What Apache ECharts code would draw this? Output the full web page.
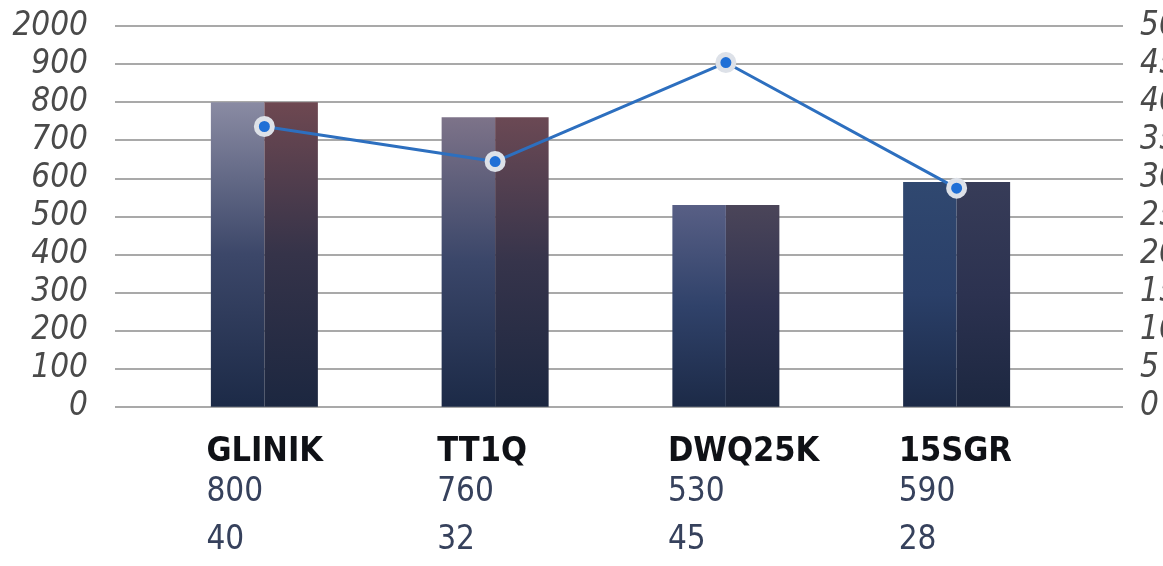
<!DOCTYPE html>
<html>
<head>
<meta charset="utf-8">
<script src="https://cdn.jsdelivr.net/npm/echarts@6/dist/echarts.min.js"></script>
<style>
html,body{margin:0;padding:0;background:#fff;}
#chart{width:1163px;height:566px;}
</style>
</head>
<body>
<div id="chart"></div>
<script>
// ---- data ----
const categories = ['GLINIK', 'TT1Q', 'DWQ25K', '15SGR'];
const barValues = [800, 760, 530, 590];
const lineValues = [36.8, 32.2, 45.2, 28.7];
const barValueLabels = ['800', '760', '530', '590'];
const lineValueLabels = ['40', '32', '45', '28'];
const leftTickLabels = ['0', '100', '200', '300', '400', '500', '600', '700', '800', '900', '2000'];
const rightTickLabels = ['0', '5', '10', '15', '20', '25', '30', '35', '40', '45', '50'];

// ---- styles ----
const leftTopColors = ['#8a8ba3', '#7d7389', '#585f85', '#304870'];
const leftMidColors = ['#3c4769', '#3a4669', '#30426a', '#2a3f68'];
const rightTopColors = ['#6e4851', '#6b4954', '#4b4559', '#373c58'];
const rightMidColors = ['#353349', '#36344b', '#2f3250', '#2c3250'];

function hasFont(name) {
  const c = document.createElement('canvas').getContext('2d');
  const t = '2000GLINIK0123456789';
  c.font = '40px monospace';
  const a = c.measureText(t).width;
  c.font = '40px "' + name + '", monospace';
  const b = c.measureText(t).width;
  return Math.abs(a - b) > 0.5;
}
const hasCond = hasFont('DejaVu Sans Condensed');
const condFont = hasCond ? '"DejaVu Sans Condensed", "Liberation Sans", sans-serif' : '"Liberation Sans", sans-serif';
const axisSize = hasCond ? 33 : 29;

function grad(top, mid, bottom) {
  return new echarts.graphic.LinearGradient(0, 0, 0, 1, [
    { offset: 0, color: top },
    { offset: 0.5, color: mid },
    { offset: 1, color: bottom }
  ]);
}

const chart = echarts.init(document.getElementById('chart'), null, { renderer: 'canvas' });

const gridTop = 26;
const gridBottom = 566 - 406.7;

const option = {
  animation: false,
  backgroundColor: '#ffffff',
  grid: [
    { left: 115, right: 40, top: gridTop, bottom: gridBottom, containLabel: false, outerBoundsMode: 'none' },
    { left: 149, right: 91, top: gridTop, bottom: gridBottom, containLabel: false, outerBoundsMode: 'none' }
  ],
  xAxis: [
    { gridIndex: 0, type: 'value', show: false, min: 0, max: 1 },
    {
      gridIndex: 1, type: 'category', data: categories, boundaryGap: true,
      axisLine: { show: false }, axisTick: { show: false },
      axisLabel: {
        margin: 25,
        interval: 0,
        hideOverlap: false,
        formatter: function (v, i) {
          return '{n|' + v + '}\n{a|' + barValueLabels[i] + '}\n{b|' + lineValueLabels[i] + '}';
        },
        rich: {
          n: { fontFamily: condFont, fontWeight: 'bold', fontSize: 34, color: '#0f1116', lineHeight: 40, width: 116, align: 'left' },
          a: { fontFamily: condFont, fontSize: 33, color: '#36415c', lineHeight: 41, width: 116, align: 'left' },
          b: { fontFamily: condFont, fontSize: 33, color: '#36415c', lineHeight: 56, width: 116, align: 'left' }
        }
      }
    }
  ],
  yAxis: [
    {
      gridIndex: 0, type: 'value', min: 0, max: 1000, interval: 100, position: 'left',
      axisLine: { show: false }, axisTick: { show: false },
      splitLine: { show: true, lineStyle: { color: '#8c8c8c', width: 1.5 } },
      axisLabel: {
        margin: 27, fontFamily: condFont, fontSize: axisSize, fontStyle: 'italic', color: '#4a4a4a',
        formatter: function (v) { return leftTickLabels[Math.round(v / 100)]; }
      }
    },
    {
      gridIndex: 0, type: 'value', min: 0, max: 50, interval: 5, position: 'right',
      axisLine: { show: false }, axisTick: { show: false }, splitLine: { show: false },
      axisLabel: {
        margin: 17, fontFamily: condFont, fontSize: axisSize, fontStyle: 'italic', color: '#4a4a4a',
        formatter: function (v) { return rightTickLabels[Math.round(v / 5)]; }
      }
    },
    { gridIndex: 1, type: 'value', min: 0, max: 1000, show: false },
    { gridIndex: 1, type: 'value', min: 0, max: 50, show: false }
  ],
  series: [
    {
      type: 'bar', xAxisIndex: 1, yAxisIndex: 2, barWidth: 53.5, barGap: '0%',
      data: barValues.map(function (v, i) {
        return { value: v, itemStyle: { color: grad(leftTopColors[i], leftMidColors[i], '#1c2a47') } };
      })
    },
    {
      type: 'bar', xAxisIndex: 1, yAxisIndex: 2, barWidth: 53.5, barGap: '0%',
      data: barValues.map(function (v, i) {
        return { value: v, itemStyle: { color: grad(rightTopColors[i], rightMidColors[i], '#1c2740') } };
      })
    },
    {
      type: 'line', xAxisIndex: 1, yAxisIndex: 3, data: lineValues,
      symbol: 'circle', symbolSize: 16, z: 5,
      lineStyle: { color: '#2d6fbf', width: 3 },
      itemStyle: { color: '#1f6fd6', borderColor: '#dde1e8', borderWidth: 5 }
    }
  ]
};
chart.setOption(option);
</script>
</body>
</html>
